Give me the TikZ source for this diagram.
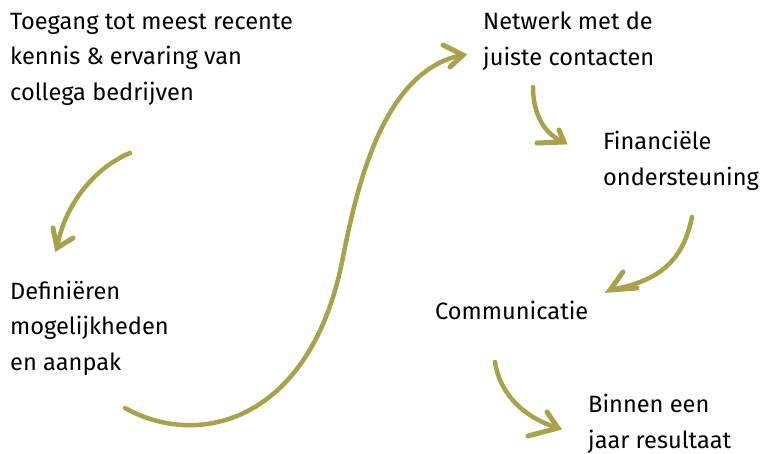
\documentclass[tikz,border=0pt]{standalone}
\usepackage{fontspec}
\setmainfont{Fira Sans}
\begin{document}
\definecolor{olive}{RGB}{170,161,75}
\begin{tikzpicture}[x=1pt,y=-1pt,
  lbl/.style={anchor=base west,inner sep=0pt,align=left,font=\fontsize{23.6}{35.5}\selectfont},
  shaft/.style={draw=olive,line width=4.5pt,line cap=round,line join=round},
  barb/.style={draw=olive,line width=5pt,line cap=round}]
\useasboundingbox (0,0) rectangle (763,453);
% texts (anchored at the baseline of the last line)
\node[lbl] (toegang) at (10,100) {Toegang tot meest recente\\kennis \& ervaring van\\collega bedrijven};
\node[lbl] (defin) at (10,370) {Definiëren\\mogelijkheden\\en aanpak};
\node[lbl] (netwerk) at (483,65) {Netwerk met de\\juiste contacten};
\node[lbl] (fin) at (603,185) {Financiële\\ondersteuning};
\node[lbl] (comm) at (435,319) {Communicatie};
\node[lbl] (binnen) at (588,448) {Binnen een\\jaar resultaat};
% arrow 1
\coordinate (a1s) at (130,153);
\coordinate (a1t) at (57,248);
\draw[shaft] (a1s) .. controls (100,165) and (65,200) .. (a1t);
\coordinate (a1b1) at (53,228);
\coordinate (a1b2) at (73,238);
\draw[barb] (a1b1) -- (a1t) -- (a1b2);
% arrow 2
\coordinate (a2s) at (125,408);
\coordinate (a2m) at (342,262);
\coordinate (a2t) at (463,55);
\draw[shaft] (a2s) .. controls (200,450) and (310,420) .. (a2m)
  .. controls (355,197) and (380,70) .. (a2t);
\coordinate (a2b1) at (443,45);
\coordinate (a2b2) at (450,67);
\draw[barb] (a2b1) -- (a2t) -- (a2b2);
% arrow 3
\coordinate (a3s) at (533,87);
\coordinate (a3t) at (564,142);
\draw[shaft] (a3s) .. controls (533,115) and (545,135) .. (a3t);
\coordinate (a3b1) at (559,130);
\coordinate (a3b2) at (537,143);
\draw[barb] (a3b1) -- (a3t) -- (a3b2);
% arrow 4
\coordinate (a4s) at (692,217);
\coordinate (a4t) at (610,290);
\draw[shaft] (a4s) .. controls (685,250) and (670,280) .. (a4t);
\coordinate (a4b1) at (623,272);
\coordinate (a4b2) at (637,288);
\draw[barb] (a4b1) -- (a4t) -- (a4b2);
% arrow 5
\coordinate (a5s) at (495,362);
\coordinate (a5t) at (558,428);
\draw[shaft] (a5s) .. controls (500,395) and (525,418) .. (a5t);
\coordinate (a5b1) at (547,412);
\coordinate (a5b2) at (528,436);
\draw[barb] (a5b1) -- (a5t) -- (a5b2);
\end{tikzpicture}
\end{document}
